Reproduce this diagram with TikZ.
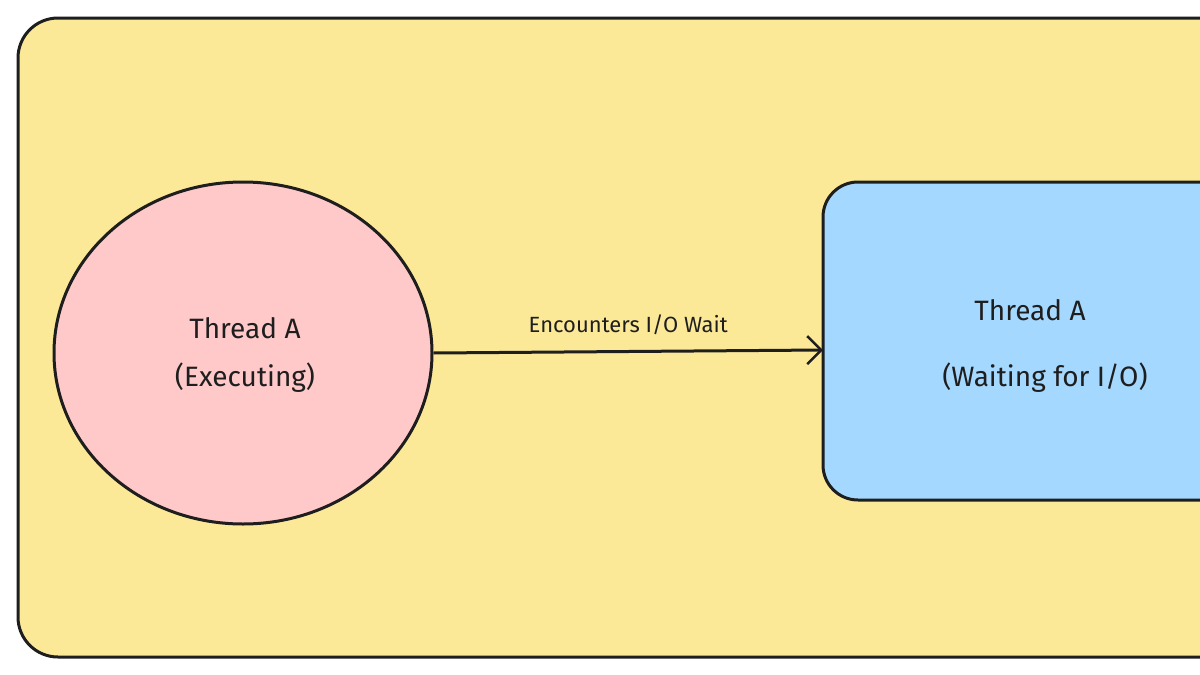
\documentclass[tikz,border=0pt]{standalone}
\usepackage{fontspec}
\setmainfont{Fira Sans}
\usetikzlibrary{shapes.geometric,arrows.meta}
\definecolor{bgy}{HTML}{FCE998}
\definecolor{pk}{HTML}{FFC9C9}
\definecolor{bl}{HTML}{A5D8FF}
\definecolor{ink}{HTML}{1E1E1E}
\begin{document}
\begin{tikzpicture}[x=1pt,y=-1pt,
  box/.style={draw=ink,line width=3pt},
  lbl/.style={font=\fontsize{28}{32}\selectfont,text=ink,align=center},
  arr/.style={draw=ink,line width=3pt,-{Straight Barb[length=14pt,width=28pt,line width=2.5pt]}}]
\useasboundingbox (0,0) rectangle (1200,675);
\clip (0,0) rectangle (1200,675);
\fill[white] (0,0) rectangle (1200,675);
\draw[box,fill=bgy,rounded corners=40pt] (18,18) rectangle (1240,657);
\node[box,fill=pk,ellipse,minimum width=378pt,minimum height=342pt] (c) at (243,353) {};
\draw[box,fill=bl,rounded corners=35pt] (823,182) rectangle (1240,500);
\coordinate (b) at (823,350);
\node[lbl] at (245,328) {Thread A};
\node[lbl] at (245,378) {(Executing)};
\node[lbl] at (1030,310) {Thread A};
\node[lbl] at (1045,378) {(Waiting for I/O)};
\draw[arr] (c.east) -- (b) node[midway,above=12pt,font=\fontsize{22}{26}\selectfont,text=ink] {Encounters I/O Wait};
\end{tikzpicture}
\end{document}
